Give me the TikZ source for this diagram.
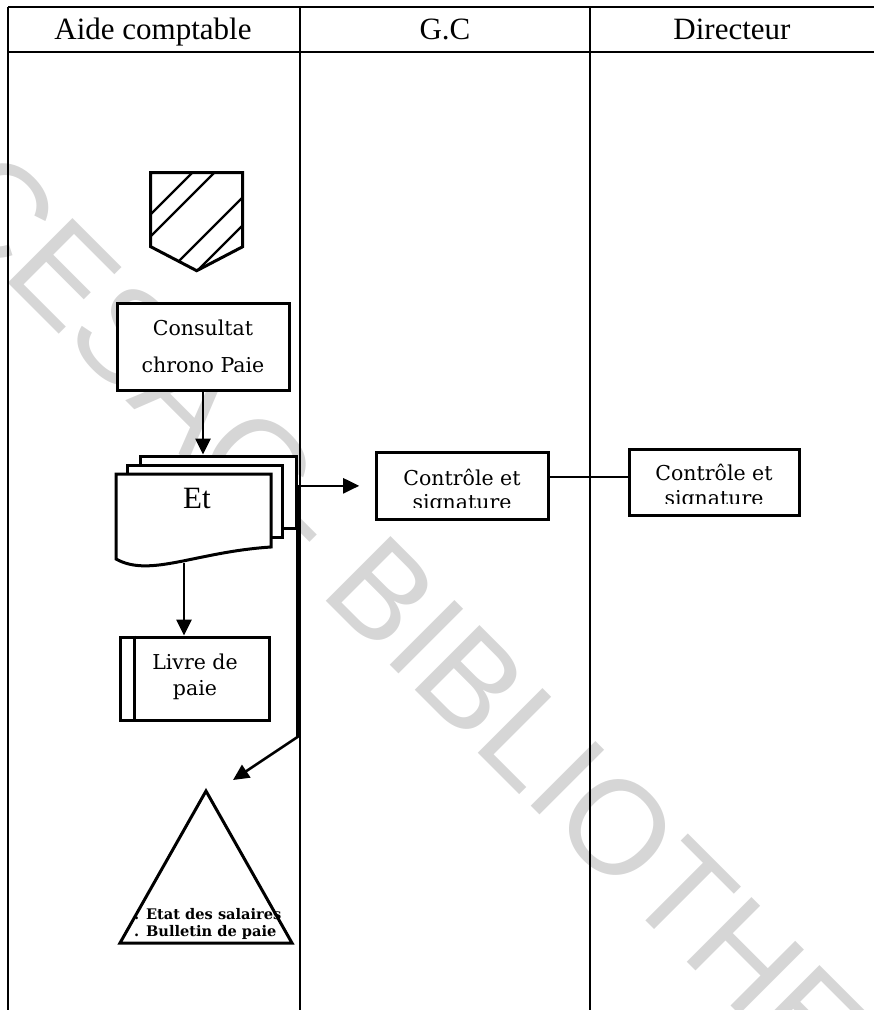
\documentclass[tikz,border=0pt]{standalone}
\usepackage{fontspec}
\setmainfont{Liberation Serif}
\newfontfamily\bk{DejaVu Serif}
\newfontfamily\wmfont{Liberation Sans}
\usetikzlibrary{arrows.meta}
\definecolor{wmgray}{HTML}{D6D6D6}
\begin{document}
\begin{tikzpicture}[x=1pt,y=1pt,
  tbl/.style={line width=1.8pt},
  box/.style={draw, line width=3pt, fill=white, inner sep=0pt},
  shp/.style={draw, line width=3pt, fill=white},
  arr/.style={line width=2.6pt, -{Triangle[length=16pt,width=15pt]}},
  con/.style={line width=2.6pt},
  hdr/.style={font=\fontsize{31}{31}\selectfont, inner sep=0pt, anchor=base},
  lbl/.style={font=\bk\fontsize{20.5}{20.5}\selectfont, inner sep=0pt, anchor=base},
  trilbl/.style={font=\bk\bfseries\fontsize{14.6}{14.6}\selectfont, inner sep=0pt, anchor=base west},
  wmk/.style={font=\wmfont\fontsize{133}{133}\selectfont, text=wmgray, inner sep=0pt}
]
\useasboundingbox (0,0) rectangle (874,-1010);
\clip (0,0) rectangle (874,-1010);

% watermark
\node[wmk, rotate=-45, anchor=base west] (wmark) at (-68,-207) {CESAG- BIBLIOTHEQUE};

% table
\draw[tbl] (8,-7) -- (874,-7);
\draw[tbl] (8,-52) -- (874,-52);
\draw[tbl] (8,-7) -- (8,-1010);
\draw[tbl] (300,-7) -- (300,-1010);
\draw[tbl] (590,-7) -- (590,-1010);
\node[hdr] (h1) at (153,-39) {Aide comptable};
\node[hdr] (h2) at (445,-39) {G.C};
\node[hdr] (h3) at (732,-39) {Directeur};

% shield (off-page connector)
\begin{scope}
  \clip (150.7,-172.7) -- (242.7,-172.7) -- (242.7,-246.7) -- (196.7,-270.7) -- (150.7,-246.7) -- cycle;
  \foreach \c in {365,387,440,468}
    \draw[line width=2.4pt] (100,{\c*(-1)+100}) -- (300,{\c*(-1)+300});
\end{scope}
\draw[line width=3pt] (150.7,-172.7) -- (242.7,-172.7) -- (242.7,-246.7) -- (196.7,-270.7) -- (150.7,-246.7) -- cycle;

% Consultat
\node[box, minimum width=172pt, minimum height=87pt] (consult) at (203,-347) {};
\node[lbl] (consult1) at (203,-335) {Consultat};
\node[lbl] (consult2) at (203,-372.7) {chrono Paie};

% Et multi-document
\node[box, minimum width=156pt, minimum height=72pt] (etc) at (218,-492) {};
\node[box, minimum width=155pt, minimum height=72.7pt] (etb) at (205.2,-501.35) {};
\draw[shp] (116,-474) -- (271,-474) -- (271,-547) .. controls (195,-552) and (150,-578) .. (116,-559) -- cycle;
\node[inner sep=0pt, anchor=base, font=\fontsize{31}{31}\selectfont] (et) at (197,-508) {Et};
\coordinate (wv) at (184,-563);

\draw[arr] (consult.south) -- (consult.south |- etc.north);

% Livre de paie
\node[box, minimum width=149pt, minimum height=83pt] (livre) at (194.5,-678.5) {};
\draw[line width=3pt] ([xshift=16pt]livre.north west) -- ([xshift=16pt]livre.south west);
\node[lbl] (livre1) at (195,-669) {Livre de};
\node[lbl] (livre2) at (195,-695) {paie};
\draw[arr] (wv) -- (wv |- livre.north);

% Controle boxes
\node[box, minimum width=171.3pt, minimum height=66.3pt] (ctrl1) at (462.35,-485.85) {};
\node[box, minimum width=169.7pt, minimum height=66pt] (ctrl2) at (714.15,-482) {};
\begin{scope}
  \clip (377,-453) rectangle (548,-507);
  \node[lbl] (c1a) at (462,-485) {Contrôle et};
  \node[lbl] (c1b) at (462,-509) {signature};
\end{scope}
\begin{scope}
  \clip (630,-449) rectangle (799,-503.5);
  \node[lbl] (c2a) at (714,-480) {Contrôle et};
  \node[lbl] (c2b) at (714,-505.5) {signature};
\end{scope}

% connectors
\draw[arr, shorten >=16pt] (etc.east |- ctrl1.west) -- (ctrl1.west);
\coordinate (bend) at (297,-737);
\coordinate (tritip) at (233,-780);
\draw[arr] (etc.east |- ctrl1.west) -- (etc.east |- bend) -- (tritip);
\draw[con] ([yshift=9pt]ctrl1.east) -- ([yshift=9pt]ctrl1.east -| ctrl2.west);

% triangle
\coordinate (triA) at (206,-791);
\coordinate (triB) at (292,-943);
\coordinate (triC) at (120,-943);
\draw[line width=3pt] (triA) -- (triB) -- (triC) -- cycle;
\node[trilbl] (t1) at (134,-919) {. Etat des salaires};
\node[trilbl] (t2) at (134,-936) {. Bulletin de paie};
\end{tikzpicture}
\end{document}
